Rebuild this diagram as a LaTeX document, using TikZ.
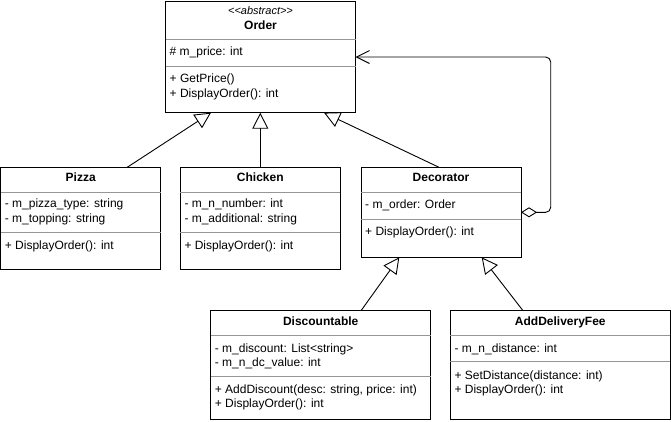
\documentclass[tikz,border=0pt]{standalone}
\usepackage{fontspec}
\setmainfont{Liberation Sans}
\usetikzlibrary{arrows.meta,calc}
\definecolor{sepgray}{RGB}{150,150,150}
\begin{document}
\begin{tikzpicture}[x=1pt,y=-1pt,
  cls/.style={draw, line width=1pt, inner sep=0pt, outer sep=0pt, fill=white},
  sepline/.style={draw=sepgray, line width=0.8pt},
  txt/.style={inner sep=0pt, anchor=west, font=\fontsize{12}{14}\selectfont, text height=9pt, text depth=2.5pt},
  ttl/.style={inner sep=0pt, font=\bfseries\fontsize{12}{14}\selectfont, text height=9pt, text depth=2.5pt},
  ster/.style={inner sep=0pt, font=\itshape\fontsize{11}{13}\selectfont, text height=8pt, text depth=2pt},
  gen/.style={line width=0.9pt, -{Triangle[open,length=16pt,width=16pt]}},
  agg/.style={line width=0.9pt, rounded corners=5pt, {Diamond[open,length=16pt,width=10pt]}-{Straight Barb[length=13pt,width=13pt]}}
]
\useasboundingbox (0,0) rectangle (671,421);

% ---------- Order ----------
\node[cls, minimum width=190pt, minimum height=111.7pt] (order) at (260.5,56.85) {};
\draw[sepline] (order.west |- 0,39.3) -- (order.east |- 0,39.3);
\draw[sepline] (order.west |- 0,66) -- (order.east |- 0,66);
\node[ster] (ordster) at (260.5,11.5) {<\kern0pt<abstract>\kern0pt>};
\node[ttl] (ordname) at (260.5,26) {Order};
\node[txt] (ordattr) at (169.5,52.5) {\# m\_price: int};
\node[txt] (ordm1) at (169.5,79.5) {+ GetPrice()};
\node[txt] (ordm2) at (169.5,94) {+ DisplayOrder(): int};

% ---------- Pizza ----------
\node[cls, minimum width=160pt, minimum height=102pt] (pizza) at (80.7,218.3) {};
\draw[sepline] (pizza.west |- 0,192.3) -- (pizza.east |- 0,192.3);
\draw[sepline] (pizza.west |- 0,232.7) -- (pizza.east |- 0,232.7);
\node[ttl] (pizname) at (80.7,178.5) {Pizza};
\node[txt] (piza1) at (4.7,204.5) {- m\_pizza\_type: string};
\node[txt] (piza2) at (4.7,219) {- m\_topping: string};
\node[txt] (pizm1) at (4.7,246) {+ DisplayOrder(): int};

% ---------- Chicken ----------
\node[cls, minimum width=160pt, minimum height=102pt] (chicken) at (260.3,218.3) {};
\draw[sepline] (chicken.west |- 0,192.3) -- (chicken.east |- 0,192.3);
\draw[sepline] (chicken.west |- 0,232.7) -- (chicken.east |- 0,232.7);
\node[ttl] (chiname) at (260.3,178.5) {Chicken};
\node[txt] (chia1) at (184.3,204.5) {- m\_n\_number: int};
\node[txt] (chia2) at (184.3,219) {- m\_additional: string};
\node[txt] (chim1) at (184.3,246) {+ DisplayOrder(): int};

% ---------- Decorator ----------
\node[cls, minimum width=160pt, minimum height=90pt] (deco) at (441,212.3) {};
\draw[sepline] (deco.west |- 0,192.7) -- (deco.east |- 0,192.7);
\draw[sepline] (deco.west |- 0,219.3) -- (deco.east |- 0,219.3);
\node[ttl] (deconame) at (441,178.5) {Decorator};
\node[txt] (decoa1) at (365,205.5) {- m\_order: Order};
\node[txt] (decom1) at (365,232.5) {+ DisplayOrder(): int};

% ---------- Discountable ----------
\node[cls, minimum width=220pt, minimum height=108.6pt] (disc) at (320.7,365) {};
\draw[sepline] (disc.west |- 0,335) -- (disc.east |- 0,335);
\draw[sepline] (disc.west |- 0,376.7) -- (disc.east |- 0,376.7);
\node[ttl] (discname) at (320.7,322) {Discountable};
\node[txt] (disca1) at (214.7,349) {- m\_discount: List<string>};
\node[txt] (disca2) at (214.7,363) {- m\_n\_dc\_value: int};
\node[txt] (discm1) at (214.7,390) {+ AddDiscount(desc: string, price: int)};
\node[txt] (discm2) at (214.7,404) {+ DisplayOrder(): int};

% ---------- AddDeliveryFee ----------
\node[cls, minimum width=220pt, minimum height=108.6pt] (adf) at (560.3,365) {};
\draw[sepline] (adf.west |- 0,335) -- (adf.east |- 0,335);
\draw[sepline] (adf.west |- 0,361.7) -- (adf.east |- 0,361.7);
\node[ttl] (adfname) at (560.3,322) {AddDeliveryFee};
\node[txt] (adfa1) at (454.3,349) {- m\_n\_distance: int};
\node[txt] (adfm1) at (454.3,376) {+ SetDistance(distance: int)};
\node[txt] (adfm2) at (454.3,390.5) {+ DisplayOrder(): int};

% ---------- connectors ----------
\draw[gen] ($(pizza.north)+(46.5,0)$) -- (211,0 |- order.south);
\draw[gen] (chicken.north) -- (chicken.north |- order.south);
\draw[gen] ($(deco.north)+(-2,0)$) -- (324,0 |- order.south);
\draw[gen] ($(disc.north)+(40.3,0)$) -- (399.3,0 |- deco.south);
\draw[gen] ($(adf.north)+(-37.3,0)$) -- (481.7,0 |- deco.south);
\coordinate (aggturn1) at (550.7,212.3);
\coordinate (aggturn2) at (550.7,57);
\draw[agg] (deco.east) -- (aggturn1) -- (aggturn2) -- (order.east |- aggturn2);
\end{tikzpicture}
\end{document}
